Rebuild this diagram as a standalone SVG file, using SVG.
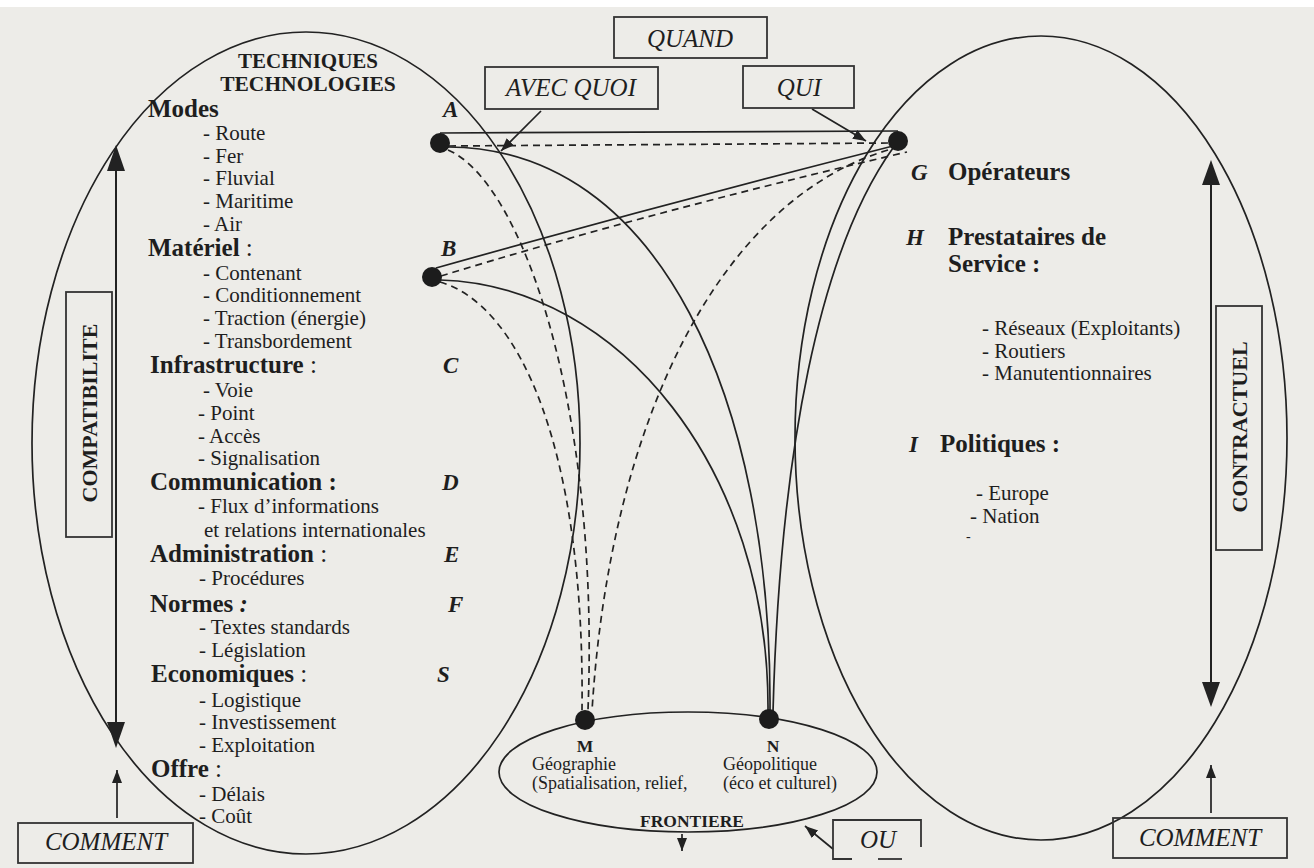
<svg xmlns="http://www.w3.org/2000/svg" width="1314" height="868" viewBox="0 0 1314 868">
<style>
text{font-family:"Liberation Serif","Times New Roman",serif;fill:#1e1e1e}
.h{font-size:25px;font-weight:bold}
.t{font-size:21px}
.L{font-size:23px;font-weight:bold;font-style:italic}
.bx{font-size:25px;font-style:italic}
.s{font-size:18px}
.sb{font-size:17.5px;font-weight:bold}
.r{font-weight:normal;font-style:normal}
.ln{fill:none;stroke:#222;stroke-width:1.7}
.ds{fill:none;stroke:#222;stroke-width:1.7;stroke-dasharray:7 5}
.box{fill:none;stroke:#333;stroke-width:1.8}
.dot{fill:#1c1c1c}
.ah{fill:#222}
</style>
<defs>
<marker id="sa" markerUnits="userSpaceOnUse" markerWidth="14" markerHeight="12" refX="13" refY="5" orient="auto">
<path d="M0,0 L13,5 L0,10 z" fill="#222"/>
</marker>
</defs>
<rect x="0" y="0" width="1314" height="868" fill="#edece8"/>
<rect x="0" y="0" width="1314" height="7" fill="#ffffff"/>

<g id="ellipse-techniques">
<ellipse class="ln" cx="306" cy="443" rx="274" ry="411"/>
<text class="h" x="308" y="68" text-anchor="middle" style="font-size:21px">TECHNIQUES</text>
<text class="h" x="308" y="91" text-anchor="middle" style="font-size:21.5px">TECHNOLOGIES</text>
<text class="h" x="148" y="117">Modes</text>
<text class="t" x="203" y="140">- Route</text>
<text class="t" x="203" y="163">- Fer</text>
<text class="t" x="203" y="185">- Fluvial</text>
<text class="t" x="203" y="208">- Maritime</text>
<text class="t" x="203" y="231">- Air</text>
<text class="h" x="148" y="256">Matériel<tspan class="r"> :</tspan></text>
<text class="t" x="203" y="280">- Contenant</text>
<text class="t" x="203" y="302">- Conditionnement</text>
<text class="t" x="203" y="325">- Traction (énergie)</text>
<text class="t" x="203" y="348">- Transbordement</text>
<text class="h" x="150" y="373">Infrastructure<tspan class="r"> :</tspan></text>
<text class="t" x="203" y="397">- Voie</text>
<text class="t" x="198" y="420">- Point</text>
<text class="t" x="198" y="443">- Accès</text>
<text class="t" x="198" y="465">- Signalisation</text>
<text class="h" x="150" y="490">Communication :</text>
<text class="t" x="198" y="513">- Flux d’informations</text>
<text class="t" x="204" y="537">et relations internationales</text>
<text class="h" x="150" y="562">Administration<tspan class="r"> :</tspan></text>
<text class="t" x="199" y="585">- Procédures</text>
<text class="h" x="150" y="612">Normes<tspan style="font-style:italic"> :</tspan></text>
<text class="t" x="199" y="634">- Textes standards</text>
<text class="t" x="199" y="657">- Législation</text>
<text class="h" x="151" y="682">Economiques<tspan class="r"> :</tspan></text>
<text class="t" x="199" y="707">- Logistique</text>
<text class="t" x="199" y="729">- Investissement</text>
<text class="t" x="199" y="752">- Exploitation</text>
<text class="h" x="151" y="777">Offre<tspan class="r"> :</tspan></text>
<text class="t" x="199" y="801">- Délais</text>
<text class="t" x="199" y="823">- Coût</text>
<text class="L" x="443" y="117">A</text>
<text class="L" x="441" y="256">B</text>
<text class="L" x="443" y="373">C</text>
<text class="L" x="442" y="490">D</text>
<text class="L" x="444" y="562">E</text>
<text class="L" x="448" y="612">F</text>
<text class="L" x="437" y="682">S</text>
</g>

<g id="ellipse-contractuel">
<ellipse class="ln" cx="1041" cy="438" rx="246" ry="402"/>
<text class="L" x="911" y="180">G</text>
<text class="h" x="948" y="180">Opérateurs</text>
<text class="L" x="906" y="245">H</text>
<text class="h" x="948" y="245">Prestataires de</text>
<text class="h" x="948" y="272">Service :</text>
<text class="t" x="982" y="335">- Réseaux (Exploitants)</text>
<text class="t" x="982" y="358">- Routiers</text>
<text class="t" x="982" y="380">- Manutentionnaires</text>
<text class="L" x="909" y="452">I</text>
<text class="h" x="940" y="452">Politiques :</text>
<text class="t" x="976" y="500">- Europe</text>
<text class="t" x="970" y="523">- Nation</text>
<text class="t" x="966" y="541" style="font-size:14px">-</text>
</g>

<g id="ellipse-frontiere">
<ellipse class="ln" cx="688" cy="772" rx="189" ry="60"/>
<text class="sb" x="585" y="752" text-anchor="middle">M</text>
<text class="s" x="532" y="770">Géographie</text>
<text class="s" x="532" y="789">(Spatialisation, relief,</text>
<text class="sb" x="773" y="752" text-anchor="middle">N</text>
<text class="s" x="723" y="770">Géopolitique</text>
<text class="s" x="723" y="789">(éco et culturel)</text>
<text class="sb" x="640" y="827">FRONTIERE</text>
<line class="ln" x1="682" y1="834" x2="682" y2="851" marker-end="url(#sa)"/>
</g>

<g id="connectors">
<line class="ln" x1="440" y1="133" x2="898" y2="131"/>
<line class="ds" x1="449" y1="146" x2="890" y2="143"/>
<path class="ln" d="M436 268 Q 660 205 893 146"/>
<path class="ds" d="M441 276 Q 650 212 907 152"/>
<path class="ds" d="M888 150 C 720 200 610 420 592 711"/>
<path class="ds" d="M448 150 C 520 180 600 400 588 710"/>
<path class="ds" d="M440 282 C 520 305 585 450 582 710"/>
<path class="ln" d="M448 147 C 660 148 772 400 770 711"/>
<path class="ln" d="M440 280 C 620 285 770 470 768 712"/>
<path class="ln" d="M893 148 C 820 250 780 450 773 712"/>
<line class="ln" x1="541" y1="111" x2="501" y2="151" marker-end="url(#sa)"/>
<line class="ln" x1="812" y1="109" x2="866" y2="141" marker-end="url(#sa)"/>
<line class="ln" x1="833" y1="849" x2="805" y2="826" marker-end="url(#sa)"/>
<line class="ln" x1="117" y1="818" x2="117" y2="770" marker-end="url(#sa)"/>
<line class="ln" x1="1211" y1="813" x2="1211" y2="765" marker-end="url(#sa)"/>
<line class="ln" x1="116" y1="165" x2="116" y2="728" style="stroke-width:2"/>
<polygon class="ah" points="116,145 107,171 125,171"/>
<polygon class="ah" points="116,748 107,722 125,722"/>
<line class="ln" x1="1211" y1="180" x2="1211" y2="687" style="stroke-width:2"/>
<polygon class="ah" points="1211,160 1202,185 1220,185"/>
<polygon class="ah" points="1211,707 1202,682 1220,682"/>
</g>

<g id="node-A"><circle class="dot" cx="440" cy="143" r="10"/></g>
<g id="node-B"><circle class="dot" cx="432" cy="277" r="10"/></g>
<g id="node-G"><circle class="dot" cx="898" cy="141" r="10"/></g>
<g id="node-M"><circle class="dot" cx="585" cy="720" r="10"/></g>
<g id="node-N"><circle class="dot" cx="769" cy="719" r="10"/></g>

<g id="box-quand">
<rect class="box" x="614" y="17" width="153" height="41"/>
<text class="bx" x="690" y="47" text-anchor="middle">QUAND</text>
</g>
<g id="box-avec-quoi">
<rect class="box" x="485" y="67" width="173" height="42"/>
<text class="bx" x="571" y="96" text-anchor="middle">AVEC QUOI</text>
</g>
<g id="box-qui">
<rect class="box" x="743" y="66" width="111" height="42"/>
<text class="bx" x="799" y="96" text-anchor="middle">QUI</text>
</g>
<g id="box-comment-left">
<rect class="box" x="18" y="823" width="175" height="40"/>
<text class="bx" x="106" y="850" text-anchor="middle">COMMENT</text>
</g>
<g id="box-comment-right">
<rect class="box" x="1113" y="818" width="174" height="40"/>
<text class="bx" x="1200" y="846" text-anchor="middle">COMMENT</text>
</g>
<g id="box-ou">
<path class="box" d="M852 859 L833 859 L833 820 L921 820 L921 847"/>
<line class="box" x1="878" y1="859" x2="902" y2="859"/>
<text class="bx" x="878" y="848" text-anchor="middle">OU</text>
</g>
<g id="box-compatibilite">
<rect class="box" x="66" y="292" width="46" height="245"/>
<text class="h" transform="translate(89,413) rotate(-90)" text-anchor="middle" dominant-baseline="central" style="font-size:22px">COMPATIBILITE</text>
</g>
<g id="box-contractuel">
<rect class="box" x="1216" y="306" width="46" height="244"/>
<text class="h" transform="translate(1239,427) rotate(-90)" text-anchor="middle" dominant-baseline="central" style="font-size:22px">CONTRACTUEL</text>
</g>
</svg>
